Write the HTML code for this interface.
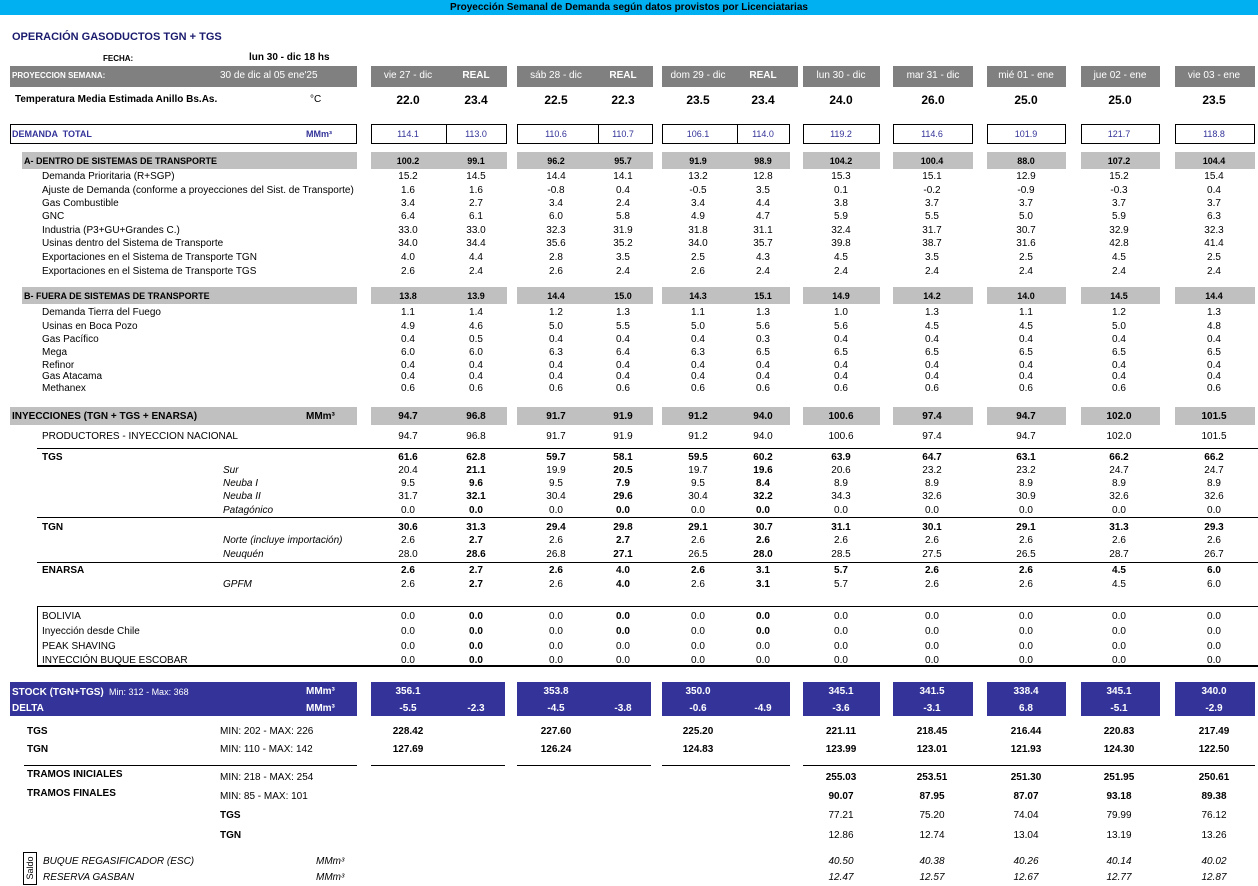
<!DOCTYPE html>
<html><head><meta charset="utf-8"><style>
body{margin:0;width:1258px;height:886px;position:relative;background:#fff;font-family:"Liberation Sans",Arial,sans-serif;font-size:10px;color:#000;overflow:hidden}
.a{position:absolute;white-space:nowrap;margin-top:1px}
.r{position:absolute;left:0;width:1258px;height:14px;line-height:14px;margin-top:2px}
.r span{position:absolute;white-space:nowrap}
.c1,.c2,.c3,.c4,.c5,.c6,.c7,.c8,.c9,.c10,.c11{width:60px;text-align:center}
.c1{left:378px}.c2{left:446px}.c3{left:526px}.c4{left:593px}.c5{left:668px}.c6{left:733px}.c7{left:811px}.c8{left:902px}.c9{left:996px}.c10{left:1089px}.c11{left:1184px}
.b{font-weight:bold}.i{font-style:italic}
.l1{left:42px}.l2{left:223px}
.box{position:absolute;box-sizing:border-box}
.g{background:#c0c0c0}.h{background:#808080}.n{background:#333399}
.ln{position:absolute;height:0;border-top:1px solid #000}
</style></head><body>
<div class="box" style="left:0;top:0;width:1258px;height:15px;background:#00b0f0"></div>
<div class="a b" style="left:0;width:1258px;top:1px;text-align:center;font-size:10px">Proyección Semanal de Demanda según datos provistos por Licenciatarias</div>
<div class="a b" style="left:12px;top:30px;font-size:11px;color:#1a1a6e">OPERACIÓN GASODUCTOS TGN + TGS</div>
<div class="a b" style="left:103px;top:53px;font-size:8px">FECHA:</div>
<div class="a b" style="left:249px;top:51px;font-size:10px">lun 30 - dic 18 hs</div>

<!-- header row -->
<div class="box h" style="left:10px;top:66px;width:347px;height:21px"></div>
<div class="box h" style="left:371px;top:66px;width:136px;height:21px"></div>
<div class="box h" style="left:517px;top:66px;width:136px;height:21px"></div>
<div class="box h" style="left:662px;top:66px;width:136px;height:21px"></div>
<div class="box h" style="left:803px;top:66px;width:77px;height:21px"></div>
<div class="box h" style="left:893px;top:66px;width:80px;height:21px"></div>
<div class="box h" style="left:987px;top:66px;width:79px;height:21px"></div>
<div class="box h" style="left:1081px;top:66px;width:79px;height:21px"></div>
<div class="box h" style="left:1175px;top:66px;width:80px;height:21px"></div>
<div class="r" style="top:67px;color:#fff"><span class="b" style="left:12px;font-size:8px">PROYECCION SEMANA:</span><span style="left:220px">30 de dic al 05 ene'25</span>
<span class="c1">vie 27 - dic</span><span class="c2 b">REAL</span><span class="c3">sáb 28 - dic</span><span class="c4 b">REAL</span><span class="c5">dom 29 - dic</span><span class="c6 b">REAL</span><span class="c7">lun 30 - dic</span><span class="c8" style="left:903px">mar 31 - dic</span><span class="c9">mié 01 - ene</span><span class="c10" style="left:1090px">jue 02 - ene</span><span class="c11">vie 03 - ene</span></div>
<div class="r b" style="top:91px;font-size:12px"><span style="left:15px;font-size:10px">Temperatura Media Estimada Anillo Bs.As.</span><span style="left:310px;font-size:10px;font-weight:normal">°C</span>
<span class="c1">22.0</span><span class="c2">23.4</span><span class="c3">22.5</span><span class="c4">22.3</span><span class="c5">23.5</span><span class="c6">23.4</span><span class="c7">24.0</span><span class="c8" style="left:903px">26.0</span><span class="c9">25.0</span><span class="c10" style="left:1090px">25.0</span><span class="c11">23.5</span></div>

<!-- demanda total -->
<div class="box" style="left:10px;top:124px;width:347px;height:20px;border:1px solid #000"></div>
<div class="box" style="left:371px;top:124px;width:136px;height:20px;border:1px solid #000"></div><div class="box" style="left:446px;top:124px;width:1px;height:20px;background:#000"></div>
<div class="box" style="left:517px;top:124px;width:136px;height:20px;border:1px solid #000"></div><div class="box" style="left:598px;top:124px;width:1px;height:20px;background:#000"></div>
<div class="box" style="left:662px;top:124px;width:128px;height:20px;border:1px solid #000"></div><div class="box" style="left:737px;top:124px;width:1px;height:20px;background:#000"></div>
<div class="box" style="left:803px;top:124px;width:77px;height:20px;border:1px solid #000"></div>
<div class="box" style="left:893px;top:124px;width:80px;height:20px;border:1px solid #000"></div>
<div class="box" style="left:987px;top:124px;width:79px;height:20px;border:1px solid #000"></div>
<div class="box" style="left:1081px;top:124px;width:79px;height:20px;border:1px solid #000"></div>
<div class="box" style="left:1175px;top:124px;width:80px;height:20px;border:1px solid #000"></div>
<div class="r" style="top:125px;color:#333399;font-size:9px"><span class="b" style="left:12px">DEMANDA &nbsp;TOTAL</span><span class="b" style="left:306px">MMm³</span>
<span class="c1">114.1</span><span class="c2">113.0</span><span class="c3">110.6</span><span class="c4">110.7</span><span class="c5">106.1</span><span class="c6">114.0</span><span class="c7">119.2</span><span class="c8">114.6</span><span class="c9">101.9</span><span class="c10">121.7</span><span class="c11">118.8</span></div>

<!-- A band -->
<div class="box g" style="left:22px;top:152px;width:335px;height:17px"></div>
<div class="box g" style="left:371px;top:152px;width:136px;height:17px"></div>
<div class="box g" style="left:517px;top:152px;width:136px;height:17px"></div>
<div class="box g" style="left:662px;top:152px;width:128px;height:17px"></div>
<div class="box g" style="left:803px;top:152px;width:77px;height:17px"></div>
<div class="box g" style="left:893px;top:152px;width:80px;height:17px"></div>
<div class="box g" style="left:987px;top:152px;width:79px;height:17px"></div>
<div class="box g" style="left:1081px;top:152px;width:79px;height:17px"></div>
<div class="box g" style="left:1175px;top:152px;width:80px;height:17px"></div>
<div class="r b" style="top:152px;font-size:9px"><span style="left:24px">A- DENTRO DE SISTEMAS DE TRANSPORTE</span><span class="c1">100.2</span><span class="c2">99.1</span><span class="c3">96.2</span><span class="c4">95.7</span><span class="c5">91.9</span><span class="c6">98.9</span><span class="c7">104.2</span><span class="c8">100.4</span><span class="c9">88.0</span><span class="c10">107.2</span><span class="c11">104.4</span></div>
<div class="r" style="top:168px"><span class="l1">Demanda Prioritaria (R+SGP)</span><span class="c1">15.2</span><span class="c2">14.5</span><span class="c3">14.4</span><span class="c4">14.1</span><span class="c5">13.2</span><span class="c6">12.8</span><span class="c7">15.3</span><span class="c8">15.1</span><span class="c9">12.9</span><span class="c10">15.2</span><span class="c11">15.4</span></div>
<div class="r" style="top:182px"><span class="l1">Ajuste de Demanda (conforme a proyecciones del Sist. de Transporte)</span><span class="c1">1.6</span><span class="c2">1.6</span><span class="c3">-0.8</span><span class="c4">0.4</span><span class="c5">-0.5</span><span class="c6">3.5</span><span class="c7">0.1</span><span class="c8">-0.2</span><span class="c9">-0.9</span><span class="c10">-0.3</span><span class="c11">0.4</span></div>
<div class="r" style="top:195px"><span class="l1">Gas Combustible</span><span class="c1">3.4</span><span class="c2">2.7</span><span class="c3">3.4</span><span class="c4">2.4</span><span class="c5">3.4</span><span class="c6">4.4</span><span class="c7">3.8</span><span class="c8">3.7</span><span class="c9">3.7</span><span class="c10">3.7</span><span class="c11">3.7</span></div>
<div class="r" style="top:208px"><span class="l1">GNC</span><span class="c1">6.4</span><span class="c2">6.1</span><span class="c3">6.0</span><span class="c4">5.8</span><span class="c5">4.9</span><span class="c6">4.7</span><span class="c7">5.9</span><span class="c8">5.5</span><span class="c9">5.0</span><span class="c10">5.9</span><span class="c11">6.3</span></div>
<div class="r" style="top:222px"><span class="l1">Industria (P3+GU+Grandes C.)</span><span class="c1">33.0</span><span class="c2">33.0</span><span class="c3">32.3</span><span class="c4">31.9</span><span class="c5">31.8</span><span class="c6">31.1</span><span class="c7">32.4</span><span class="c8">31.7</span><span class="c9">30.7</span><span class="c10">32.9</span><span class="c11">32.3</span></div>
<div class="r" style="top:235px"><span class="l1">Usinas dentro del Sistema de Transporte</span><span class="c1">34.0</span><span class="c2">34.4</span><span class="c3">35.6</span><span class="c4">35.2</span><span class="c5">34.0</span><span class="c6">35.7</span><span class="c7">39.8</span><span class="c8">38.7</span><span class="c9">31.6</span><span class="c10">42.8</span><span class="c11">41.4</span></div>
<div class="r" style="top:249px"><span class="l1">Exportaciones en el Sistema de Transporte TGN</span><span class="c1">4.0</span><span class="c2">4.4</span><span class="c3">2.8</span><span class="c4">3.5</span><span class="c5">2.5</span><span class="c6">4.3</span><span class="c7">4.5</span><span class="c8">3.5</span><span class="c9">2.5</span><span class="c10">4.5</span><span class="c11">2.5</span></div>
<div class="r" style="top:263px"><span class="l1">Exportaciones en el Sistema de Transporte TGS</span><span class="c1">2.6</span><span class="c2">2.4</span><span class="c3">2.6</span><span class="c4">2.4</span><span class="c5">2.6</span><span class="c6">2.4</span><span class="c7">2.4</span><span class="c8">2.4</span><span class="c9">2.4</span><span class="c10">2.4</span><span class="c11">2.4</span></div>

<!-- B band -->
<div class="box g" style="left:22px;top:287px;width:335px;height:17px"></div>
<div class="box g" style="left:371px;top:287px;width:136px;height:17px"></div>
<div class="box g" style="left:517px;top:287px;width:136px;height:17px"></div>
<div class="box g" style="left:662px;top:287px;width:128px;height:17px"></div>
<div class="box g" style="left:803px;top:287px;width:77px;height:17px"></div>
<div class="box g" style="left:893px;top:287px;width:80px;height:17px"></div>
<div class="box g" style="left:987px;top:287px;width:79px;height:17px"></div>
<div class="box g" style="left:1081px;top:287px;width:79px;height:17px"></div>
<div class="box g" style="left:1175px;top:287px;width:80px;height:17px"></div>
<div class="r b" style="top:287px;font-size:9px"><span style="left:24px">B- FUERA DE SISTEMAS DE TRANSPORTE</span><span class="c1">13.8</span><span class="c2">13.9</span><span class="c3">14.4</span><span class="c4">15.0</span><span class="c5">14.3</span><span class="c6">15.1</span><span class="c7">14.9</span><span class="c8">14.2</span><span class="c9">14.0</span><span class="c10">14.5</span><span class="c11">14.4</span></div>
<div class="r" style="top:304px"><span class="l1">Demanda Tierra del Fuego</span><span class="c1">1.1</span><span class="c2">1.4</span><span class="c3">1.2</span><span class="c4">1.3</span><span class="c5">1.1</span><span class="c6">1.3</span><span class="c7">1.0</span><span class="c8">1.3</span><span class="c9">1.1</span><span class="c10">1.2</span><span class="c11">1.3</span></div>
<div class="r" style="top:318px"><span class="l1">Usinas en Boca Pozo</span><span class="c1">4.9</span><span class="c2">4.6</span><span class="c3">5.0</span><span class="c4">5.5</span><span class="c5">5.0</span><span class="c6">5.6</span><span class="c7">5.6</span><span class="c8">4.5</span><span class="c9">4.5</span><span class="c10">5.0</span><span class="c11">4.8</span></div>
<div class="r" style="top:331px"><span class="l1">Gas Pacífico</span><span class="c1">0.4</span><span class="c2">0.5</span><span class="c3">0.4</span><span class="c4">0.4</span><span class="c5">0.4</span><span class="c6">0.3</span><span class="c7">0.4</span><span class="c8">0.4</span><span class="c9">0.4</span><span class="c10">0.4</span><span class="c11">0.4</span></div>
<div class="r" style="top:344px"><span class="l1">Mega</span><span class="c1">6.0</span><span class="c2">6.0</span><span class="c3">6.3</span><span class="c4">6.4</span><span class="c5">6.3</span><span class="c6">6.5</span><span class="c7">6.5</span><span class="c8">6.5</span><span class="c9">6.5</span><span class="c10">6.5</span><span class="c11">6.5</span></div>
<div class="r" style="top:357px"><span class="l1">Refinor</span><span class="c1">0.4</span><span class="c2">0.4</span><span class="c3">0.4</span><span class="c4">0.4</span><span class="c5">0.4</span><span class="c6">0.4</span><span class="c7">0.4</span><span class="c8">0.4</span><span class="c9">0.4</span><span class="c10">0.4</span><span class="c11">0.4</span></div>
<div class="r" style="top:368px"><span class="l1">Gas Atacama</span><span class="c1">0.4</span><span class="c2">0.4</span><span class="c3">0.4</span><span class="c4">0.4</span><span class="c5">0.4</span><span class="c6">0.4</span><span class="c7">0.4</span><span class="c8">0.4</span><span class="c9">0.4</span><span class="c10">0.4</span><span class="c11">0.4</span></div>
<div class="r" style="top:380px"><span class="l1">Methanex</span><span class="c1">0.6</span><span class="c2">0.6</span><span class="c3">0.6</span><span class="c4">0.6</span><span class="c5">0.6</span><span class="c6">0.6</span><span class="c7">0.6</span><span class="c8">0.6</span><span class="c9">0.6</span><span class="c10">0.6</span><span class="c11">0.6</span></div>

<!-- Inyecciones band -->
<div class="box g" style="left:10px;top:407px;width:347px;height:18px"></div>
<div class="box g" style="left:371px;top:407px;width:136px;height:18px"></div>
<div class="box g" style="left:517px;top:407px;width:136px;height:18px"></div>
<div class="box g" style="left:662px;top:407px;width:128px;height:18px"></div>
<div class="box g" style="left:803px;top:407px;width:77px;height:18px"></div>
<div class="box g" style="left:893px;top:407px;width:80px;height:18px"></div>
<div class="box g" style="left:987px;top:407px;width:79px;height:18px"></div>
<div class="box g" style="left:1081px;top:407px;width:79px;height:18px"></div>
<div class="box g" style="left:1175px;top:407px;width:80px;height:18px"></div>
<div class="r b" style="top:408px"><span style="left:12px">INYECCIONES (TGN + TGS + ENARSA)</span><span style="left:306px">MMm³</span><span class="c1">94.7</span><span class="c2">96.8</span><span class="c3">91.7</span><span class="c4">91.9</span><span class="c5">91.2</span><span class="c6">94.0</span><span class="c7">100.6</span><span class="c8">97.4</span><span class="c9">94.7</span><span class="c10">102.0</span><span class="c11">101.5</span></div>
<div class="r" style="top:428px"><span class="l1">PRODUCTORES - INYECCION NACIONAL</span><span class="c1">94.7</span><span class="c2">96.8</span><span class="c3">91.7</span><span class="c4">91.9</span><span class="c5">91.2</span><span class="c6">94.0</span><span class="c7">100.6</span><span class="c8">97.4</span><span class="c9">94.7</span><span class="c10">102.0</span><span class="c11">101.5</span></div>
<div class="ln" style="left:37px;top:448px;width:1221px"></div>
<div class="r b" style="top:449px"><span class="l1">TGS</span><span class="c1">61.6</span><span class="c2">62.8</span><span class="c3">59.7</span><span class="c4">58.1</span><span class="c5">59.5</span><span class="c6">60.2</span><span class="c7">63.9</span><span class="c8">64.7</span><span class="c9">63.1</span><span class="c10">66.2</span><span class="c11">66.2</span></div>
<div class="r" style="top:462px"><span class="l2 i">Sur</span><span class="c1">20.4</span><span class="c2 b">21.1</span><span class="c3">19.9</span><span class="c4 b">20.5</span><span class="c5">19.7</span><span class="c6 b">19.6</span><span class="c7">20.6</span><span class="c8">23.2</span><span class="c9">23.2</span><span class="c10">24.7</span><span class="c11">24.7</span></div>
<div class="r" style="top:475px"><span class="l2 i">Neuba I</span><span class="c1">9.5</span><span class="c2 b">9.6</span><span class="c3">9.5</span><span class="c4 b">7.9</span><span class="c5">9.5</span><span class="c6 b">8.4</span><span class="c7">8.9</span><span class="c8">8.9</span><span class="c9">8.9</span><span class="c10">8.9</span><span class="c11">8.9</span></div>
<div class="r" style="top:488px"><span class="l2 i">Neuba II</span><span class="c1">31.7</span><span class="c2 b">32.1</span><span class="c3">30.4</span><span class="c4 b">29.6</span><span class="c5">30.4</span><span class="c6 b">32.2</span><span class="c7">34.3</span><span class="c8">32.6</span><span class="c9">30.9</span><span class="c10">32.6</span><span class="c11">32.6</span></div>
<div class="r" style="top:502px"><span class="l2 i">Patagónico</span><span class="c1">0.0</span><span class="c2 b">0.0</span><span class="c3">0.0</span><span class="c4 b">0.0</span><span class="c5">0.0</span><span class="c6 b">0.0</span><span class="c7">0.0</span><span class="c8">0.0</span><span class="c9">0.0</span><span class="c10">0.0</span><span class="c11">0.0</span></div>
<div class="ln" style="left:37px;top:517px;width:1221px"></div>
<div class="r b" style="top:519px"><span class="l1">TGN</span><span class="c1">30.6</span><span class="c2">31.3</span><span class="c3">29.4</span><span class="c4">29.8</span><span class="c5">29.1</span><span class="c6">30.7</span><span class="c7">31.1</span><span class="c8">30.1</span><span class="c9">29.1</span><span class="c10">31.3</span><span class="c11">29.3</span></div>
<div class="r" style="top:532px"><span class="l2 i">Norte (incluye importación)</span><span class="c1">2.6</span><span class="c2 b">2.7</span><span class="c3">2.6</span><span class="c4 b">2.7</span><span class="c5">2.6</span><span class="c6 b">2.6</span><span class="c7">2.6</span><span class="c8">2.6</span><span class="c9">2.6</span><span class="c10">2.6</span><span class="c11">2.6</span></div>
<div class="r" style="top:546px"><span class="l2 i">Neuquén</span><span class="c1">28.0</span><span class="c2 b">28.6</span><span class="c3">26.8</span><span class="c4 b">27.1</span><span class="c5">26.5</span><span class="c6 b">28.0</span><span class="c7">28.5</span><span class="c8">27.5</span><span class="c9">26.5</span><span class="c10">28.7</span><span class="c11">26.7</span></div>
<div class="ln" style="left:37px;top:562px;width:1221px"></div>
<div class="r b" style="top:562px"><span class="l1">ENARSA</span><span class="c1">2.6</span><span class="c2">2.7</span><span class="c3">2.6</span><span class="c4">4.0</span><span class="c5">2.6</span><span class="c6">3.1</span><span class="c7">5.7</span><span class="c8">2.6</span><span class="c9">2.6</span><span class="c10">4.5</span><span class="c11">6.0</span></div>
<div class="r" style="top:576px"><span class="l2 i">GPFM</span><span class="c1">2.6</span><span class="c2 b">2.7</span><span class="c3">2.6</span><span class="c4 b">4.0</span><span class="c5">2.6</span><span class="c6 b">3.1</span><span class="c7">5.7</span><span class="c8">2.6</span><span class="c9">2.6</span><span class="c10">4.5</span><span class="c11">6.0</span></div>

<div class="box" style="left:37px;top:606px;width:1225px;height:61px;border:1px solid #000;border-bottom:2px solid #000"></div>
<div class="r" style="top:608px"><span class="l1">BOLIVIA</span><span class="c1">0.0</span><span class="c2 b">0.0</span><span class="c3">0.0</span><span class="c4 b">0.0</span><span class="c5">0.0</span><span class="c6 b">0.0</span><span class="c7">0.0</span><span class="c8">0.0</span><span class="c9">0.0</span><span class="c10">0.0</span><span class="c11">0.0</span></div>
<div class="r" style="top:623px"><span class="l1">Inyección desde Chile</span><span class="c1">0.0</span><span class="c2 b">0.0</span><span class="c3">0.0</span><span class="c4 b">0.0</span><span class="c5">0.0</span><span class="c6 b">0.0</span><span class="c7">0.0</span><span class="c8">0.0</span><span class="c9">0.0</span><span class="c10">0.0</span><span class="c11">0.0</span></div>
<div class="r" style="top:638px"><span class="l1">PEAK SHAVING</span><span class="c1">0.0</span><span class="c2 b">0.0</span><span class="c3">0.0</span><span class="c4">0.0</span><span class="c5">0.0</span><span class="c6">0.0</span><span class="c7">0.0</span><span class="c8">0.0</span><span class="c9">0.0</span><span class="c10">0.0</span><span class="c11">0.0</span></div>
<div class="r" style="top:652px"><span class="l1">INYECCIÓN BUQUE ESCOBAR</span><span class="c1">0.0</span><span class="c2 b">0.0</span><span class="c3">0.0</span><span class="c4">0.0</span><span class="c5">0.0</span><span class="c6">0.0</span><span class="c7">0.0</span><span class="c8">0.0</span><span class="c9">0.0</span><span class="c10">0.0</span><span class="c11">0.0</span></div>

<!-- stock band -->
<div class="box n" style="left:10px;top:682px;width:347px;height:34px"></div>
<div class="box n" style="left:371px;top:682px;width:134px;height:34px"></div>
<div class="box n" style="left:517px;top:682px;width:134px;height:34px"></div>
<div class="box n" style="left:662px;top:682px;width:128px;height:34px"></div>
<div class="box n" style="left:803px;top:682px;width:77px;height:34px"></div>
<div class="box n" style="left:893px;top:682px;width:80px;height:34px"></div>
<div class="box n" style="left:987px;top:682px;width:79px;height:34px"></div>
<div class="box n" style="left:1081px;top:682px;width:79px;height:34px"></div>
<div class="box n" style="left:1175px;top:682px;width:80px;height:34px"></div>
<div class="r b" style="top:683px;color:#fff"><span style="left:12px">STOCK (TGN+TGS) <span style="position:static;font-weight:normal;font-size:9px">&nbsp;Min: 312 - Max: 368</span></span><span style="left:306px">MMm³</span><span class="c1">356.1</span><span class="c3">353.8</span><span class="c5">350.0</span><span class="c7">345.1</span><span class="c8">341.5</span><span class="c9">338.4</span><span class="c10">345.1</span><span class="c11">340.0</span></div>
<div class="r b" style="top:700px;color:#fff"><span style="left:12px">DELTA</span><span style="left:306px">MMm³</span><span class="c1">-5.5</span><span class="c2">-2.3</span><span class="c3">-4.5</span><span class="c4">-3.8</span><span class="c5">-0.6</span><span class="c6">-4.9</span><span class="c7">-3.6</span><span class="c8">-3.1</span><span class="c9">6.8</span><span class="c10">-5.1</span><span class="c11">-2.9</span></div>

<div class="r b" style="top:723px"><span style="left:27px">TGS</span><span style="left:220px;font-weight:normal">MIN: 202 - MAX: 226</span><span class="c1">228.42</span><span class="c3">227.60</span><span class="c5">225.20</span><span class="c7">221.11</span><span class="c8">218.45</span><span class="c9">216.44</span><span class="c10">220.83</span><span class="c11">217.49</span></div>
<div class="r b" style="top:741px"><span style="left:27px">TGN</span><span style="left:220px;font-weight:normal">MIN: 110 - MAX: 142</span><span class="c1">127.69</span><span class="c3">126.24</span><span class="c5">124.83</span><span class="c7">123.99</span><span class="c8">123.01</span><span class="c9">121.93</span><span class="c10">124.30</span><span class="c11">122.50</span></div>
<div class="ln" style="left:24px;top:765px;width:333px"></div>
<div class="ln" style="left:371px;top:765px;width:134px"></div>
<div class="ln" style="left:517px;top:765px;width:134px"></div>
<div class="ln" style="left:662px;top:765px;width:128px"></div>
<div class="ln" style="left:803px;top:765px;width:452px"></div>
<div class="r b" style="top:766px"><span style="left:27px">TRAMOS INICIALES</span><span style="left:220px;font-weight:normal;top:3px">MIN: 218 - MAX: 254</span><span class="c7" style="top:3px">255.03</span><span class="c8" style="top:3px">253.51</span><span class="c9" style="top:3px">251.30</span><span class="c10" style="top:3px">251.95</span><span class="c11" style="top:3px">250.61</span></div>
<div class="r b" style="top:785px"><span style="left:27px">TRAMOS FINALES</span><span style="left:220px;font-weight:normal;top:3px">MIN: 85 - MAX: 101</span><span class="c7" style="top:3px">90.07</span><span class="c8" style="top:3px">87.95</span><span class="c9" style="top:3px">87.07</span><span class="c10" style="top:3px">93.18</span><span class="c11" style="top:3px">89.38</span></div>
<div class="r" style="top:807px"><span class="b" style="left:220px">TGS</span><span class="c7">77.21</span><span class="c8">75.20</span><span class="c9">74.04</span><span class="c10">79.99</span><span class="c11">76.12</span></div>
<div class="r" style="top:827px"><span class="b" style="left:220px">TGN</span><span class="c7">12.86</span><span class="c8">12.74</span><span class="c9">13.04</span><span class="c10">13.19</span><span class="c11">13.26</span></div>

<div class="box" style="left:23px;top:852px;width:14px;height:33px;border:1px solid #000"></div>
<div class="a" style="left:14px;top:861px;width:32px;text-align:center;transform:rotate(-90deg);font-size:9px;line-height:12px">Saldo</div>
<div class="r i" style="top:853px"><span style="left:43px">BUQUE REGASIFICADOR (ESC)</span><span style="left:316px">MMm³</span><span class="c7">40.50</span><span class="c8">40.38</span><span class="c9">40.26</span><span class="c10">40.14</span><span class="c11">40.02</span></div>
<div class="r i" style="top:869px"><span style="left:43px">RESERVA GASBAN</span><span style="left:316px">MMm³</span><span class="c7">12.47</span><span class="c8">12.57</span><span class="c9">12.67</span><span class="c10">12.77</span><span class="c11">12.87</span></div>
</body></html>
